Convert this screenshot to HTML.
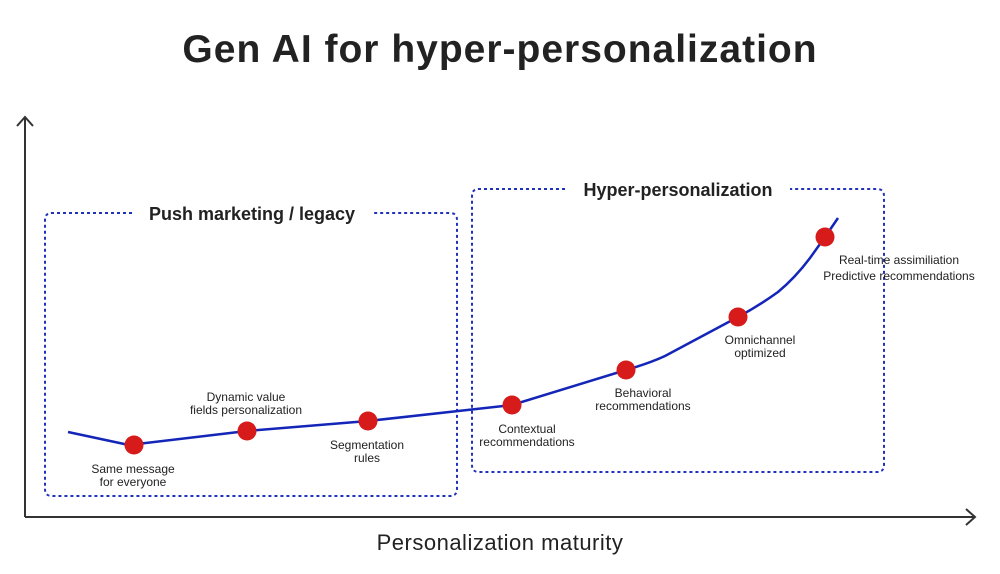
<!DOCTYPE html>
<html><head><meta charset="utf-8"><style>
html,body{margin:0;padding:0;background:#fff}
svg{display:block}
text{font-family:"Liberation Sans",sans-serif;fill:#222}
</style></head><body>
<svg width="1000" height="574" viewBox="0 0 1000 574">
<text x="500" y="62" text-anchor="middle" font-size="39" font-weight="bold" letter-spacing="1">Gen AI for hyper-personalization</text>
<g stroke="#333" stroke-width="2" fill="none">
<path d="M25 517 V118 M17 126 L25 117 L33 126"/>
<path d="M25 517 H975 M966 509 L975 517 L966 525"/>
</g>
<text x="500" y="550" text-anchor="middle" font-size="22" letter-spacing="0.5" fill="#222">Personalization maturity</text>
<g stroke="#2233bb" stroke-width="2" fill="none" stroke-dasharray="3,3">
<path d="M132 213 H52 Q45 213 45 220 V489 Q45 496 52 496 H450 Q457 496 457 489 V220 Q457 213 450 213 H372"/>
<path d="M565 189 H479 Q472 189 472 196 V465 Q472 472 479 472 H877 Q884 472 884 465 V196 Q884 189 877 189 H790"/>
</g>
<text x="252" y="220" text-anchor="middle" font-size="18" font-weight="bold" fill="#333">Push marketing / legacy</text>
<text x="678" y="196" text-anchor="middle" font-size="18" font-weight="bold" fill="#333">Hyper-personalization</text>
<path d="M68 432 L129 445 L247 431 L368 421 L512 405 L626 370 Q650 363 665 356 L738 317 Q760 305 778 292 Q795 278 810 258 L825 237 L838 218" stroke="#1426b8" stroke-width="2.5" fill="none"/>
<g fill="#d71a1a">
<circle cx="134" cy="445" r="9.5"/><circle cx="247" cy="431" r="9.5"/><circle cx="368" cy="421" r="9.5"/>
<circle cx="512" cy="405" r="9.5"/><circle cx="626" cy="370" r="9.5"/><circle cx="738" cy="317" r="9.5"/><circle cx="825" cy="237" r="9.5"/>
</g>
<g font-size="12" text-anchor="middle" fill="#333">
<text x="133" y="473">Same message</text><text x="133" y="486">for everyone</text>
<text x="246" y="401">Dynamic value</text><text x="246" y="414">fields personalization</text>
<text x="367" y="449">Segmentation</text><text x="367" y="462">rules</text>
<text x="527" y="433">Contextual</text><text x="527" y="446">recommendations</text>
<text x="643" y="397">Behavioral</text><text x="643" y="410">recommendations</text>
<text x="760" y="344">Omnichannel</text><text x="760" y="357">optimized</text>
<text x="899" y="264">Real-time assimiliation</text><text x="899" y="280">Predictive recommendations</text>
</g>
</svg>
</body></html>
